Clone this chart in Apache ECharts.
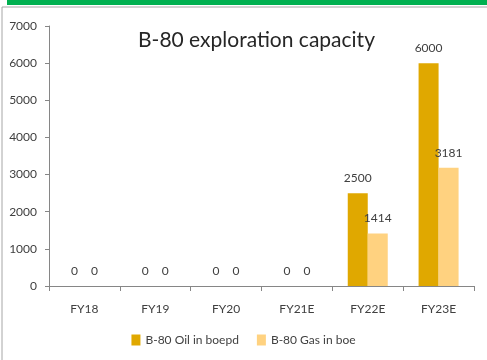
<!DOCTYPE html>
<html>
<head>
<meta charset="utf-8">
<script src="https://cdn.jsdelivr.net/npm/echarts@6/dist/echarts.min.js"></script>
<style>
  html, body { margin: 0; padding: 0; background: #fff; }
  #chart { width: 487px; height: 360px; }
</style>
</head>
<body>
<div id="chart"></div>
<script>
// data
var years = ['FY18', 'FY19', 'FY20', 'FY21E', 'FY22E', 'FY23E'];
var oilBoepd = [0, 0, 0, 0, 2500, 6000];
var gasBoe = [0, 0, 0, 0, 1414, 3181];

var font = "'Liberation Sans Narrow', Lato, sans-serif";
var chart = echarts.init(document.getElementById('chart'));

var option = {
  animation: false,
  textStyle: { fontFamily: font },
  title: {
    text: 'B-80 exploration capacity',
    left: 133,
    top: 25,
    textStyle: { fontFamily: font, fontSize: 21, fontWeight: 'normal', color: '#262626' }
  },
  graphic: [
    { type: 'rect', shape: { x: 7, y: 0, width: 480, height: 5 }, style: { fill: '#00b050' } },
    { type: 'line', shape: { x1: 2, y1: 7, x2: 487, y2: 7 }, style: { stroke: '#a6a6a6', lineWidth: 1 } },
    { type: 'line', shape: { x1: 2, y1: 7, x2: 2, y2: 360 }, style: { stroke: '#a6a6a6', lineWidth: 1 } }
  ],
  grid: { left: 49, right: 13, top: 26, bottom: 74, containLabel: false },
  legend: {
    bottom: 9,
    left: 'center',
    itemWidth: 9,
    itemHeight: 11,
    itemGap: 18,
    icon: 'rect',
    textStyle: { fontFamily: font, fontSize: 12, color: '#404040' },
    data: ['B-80 Oil in boepd', 'B-80 Gas in boe']
  },
  xAxis: {
    type: 'category',
    data: years,
    axisLine: { lineStyle: { color: '#868686' } },
    axisTick: { show: true, alignWithLabel: false, length: 5, lineStyle: { color: '#868686' } },
    axisLabel: { color: '#404040', fontSize: 12, margin: 17, fontFamily: font }
  },
  yAxis: {
    type: 'value',
    min: 0,
    max: 7000,
    interval: 1000,
    axisLine: { show: true, lineStyle: { color: '#868686' } },
    axisTick: { show: true, length: 4, inside: false, lineStyle: { color: '#868686' } },
    splitLine: { show: false },
    axisLabel: {
      color: '#404040', fontSize: 12, margin: 12, fontFamily: font,
      formatter: function (v) { return String(v); }
    }
  },
  series: [
    {
      name: 'B-80 Oil in boepd',
      type: 'bar',
      data: oilBoepd,
      barWidth: 20,
      barGap: '0%',
      itemStyle: { color: '#e0a800' },
      label: { show: true, position: 'top', distance: 9, color: '#404040', fontSize: 12, fontFamily: font }
    },
    {
      name: 'B-80 Gas in boe',
      type: 'bar',
      data: gasBoe,
      barWidth: 20,
      barGap: '0%',
      itemStyle: { color: '#ffd280' },
      label: { show: true, position: 'top', distance: 9, color: '#404040', fontSize: 12, fontFamily: font }
    }
  ]
};

chart.setOption(option);
</script>
</body>
</html>
